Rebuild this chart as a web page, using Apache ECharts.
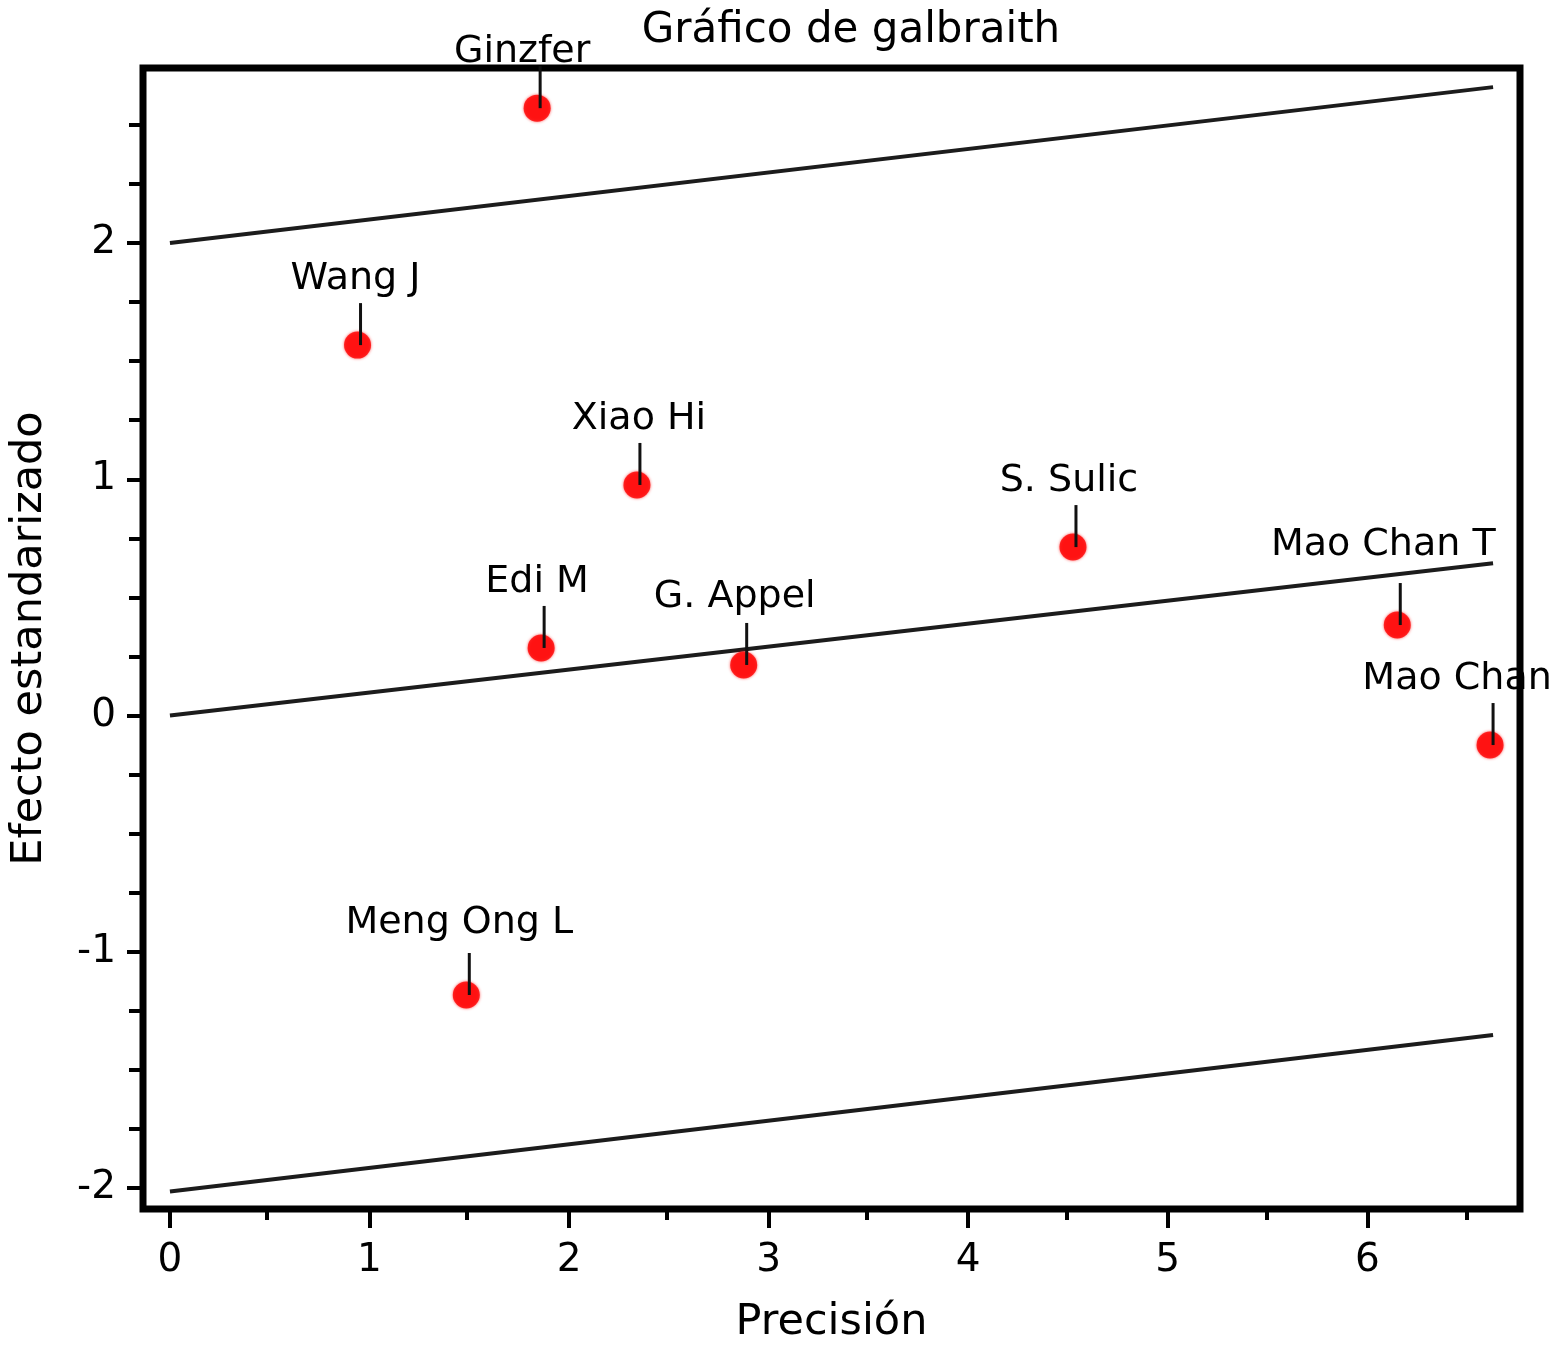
<!DOCTYPE html>
<html>
<head>
<meta charset="utf-8">
<script src="https://cdn.jsdelivr.net/npm/echarts@6/dist/echarts.min.js"></script>
<style>
html,body{margin:0;padding:0;background:#fff;}
#chart{width:1555px;height:1358px;}
</style>
</head>
<body>
<div id="chart"></div>
<script>
// ---- data ----
const studies = ['Ginzfer', 'Wang J', 'Xiao Hi', 'Edi M', 'G. Appel', 'S. Sulic', 'Mao Chan T', 'Mao Chan', 'Meng Ong L'];
const precision = [1.84, 0.94, 2.34, 1.86, 2.875, 4.525, 6.15, 6.615, 1.485];
const stdEffect = [2.571, 1.568, 0.976, 0.286, 0.214, 0.713, 0.383, -0.125, -1.183];

const lineX = [0, 6.63];
const upperBound = [2.0, 2.66];
const regLine = [0, 0.645];
const lowerBound = [-2.015, -1.352];

const xTicks = [0, 1, 2, 3, 4, 5, 6];
const xMinorTicks = [0.5, 1.5, 2.5, 3.5, 4.5, 5.5, 6.5];
const yTicks = [-2, -1, 0, 1, 2];
const yMinorTicks = [-1.75, -1.5, -1.25, -0.75, -0.5, -0.25, 0.25, 0.5, 0.75, 1.25, 1.5, 1.75, 2.25, 2.5];

const titleText = 'Gráfico de galbraith';
const xName = 'Precisión';
const yName = 'Efecto estandarizado';

// ---- layout tweaks for labels (pixels) ----
const labelNudge = {
  'Ginzfer': [-15, -10],
  'Wang J': [-2, 0],
  'Xiao Hi': [2, 0],
  'Edi M': [-4, 0],
  'G. Appel': [-9, 2],
  'S. Sulic': [-4, 0],
  'Mao Chan T': [-14, 14],
  'Mao Chan': [-33, 0],
  'Meng Ong L': [-7, 6]
};

const FONT = 'DejaVu Sans';
const X_MIN = -0.135, X_MAX = 6.765, Y_MIN = -2.089, Y_MAX = 2.741;
const gridRect = { left: 140, top: 68, width: 1380, height: 1141 };

const chart = echarts.init(document.getElementById('chart'), null, { renderer: 'canvas' });

function mkLine(ys) {
  return lineX.map((x, i) => [x, ys[i]]);
}
const lineStyle = { color: '#1c1c1c', width: 4 };
const hiddenLine = { show: false, onZero: false };

const option = {
  animation: false,
  backgroundColor: '#ffffff',
  graphic: [{
    type: 'text',
    x: 851, y: 52,
    style: { text: titleText, font: '42px "' + FONT + '"', fill: '#000', align: 'center', verticalAlign: 'bottom' },
    z: 100
  }],
  grid: [
    Object.assign({ show: true, borderColor: '#000', borderWidth: 7, backgroundColor: 'transparent', z: 3 }, gridRect),
    Object.assign({ show: false }, gridRect)
  ],
  xAxis: [{
    gridIndex: 0, type: 'value', min: X_MIN, max: X_MAX, position: 'bottom',
    axisLine: hiddenLine,
    splitLine: { show: false },
    axisTick: { show: true, customValues: xTicks, length: 19, lineStyle: { color: '#000', width: 4 } },
    axisLabel: { customValues: xTicks, margin: 32, color: '#000', fontSize: 39, fontFamily: FONT },
    name: xName, nameLocation: 'middle', nameGap: 92,
    nameTextStyle: { fontSize: 43, fontFamily: FONT, color: '#000' }
  }, {
    gridIndex: 1, type: 'value', min: X_MIN, max: X_MAX, position: 'bottom',
    axisLine: hiddenLine, splitLine: { show: false },
    axisTick: { show: true, customValues: xMinorTicks, length: 11, lineStyle: { color: '#000', width: 4 } },
    axisLabel: { show: false }
  }],
  yAxis: [{
    gridIndex: 0, type: 'value', min: Y_MIN, max: Y_MAX, position: 'left',
    axisLine: hiddenLine,
    splitLine: { show: false },
    axisTick: { show: true, customValues: yTicks, length: 16, lineStyle: { color: '#000', width: 4 } },
    axisLabel: { customValues: yTicks, margin: 27, color: '#000', fontSize: 39, fontFamily: FONT },
    name: yName, nameLocation: 'middle', nameGap: 92, nameRotate: 90,
    nameTextStyle: { fontSize: 43, fontFamily: FONT, color: '#000' }
  }, {
    gridIndex: 1, type: 'value', min: Y_MIN, max: Y_MAX, position: 'left',
    axisLine: hiddenLine, splitLine: { show: false },
    axisTick: { show: true, customValues: yMinorTicks, length: 11, lineStyle: { color: '#000', width: 4 } },
    axisLabel: { show: false }
  }],
  series: [
    { type: 'line', xAxisIndex: 0, yAxisIndex: 0, data: mkLine(upperBound), symbol: 'none', lineStyle: lineStyle, z: 2 },
    { type: 'line', xAxisIndex: 0, yAxisIndex: 0, data: mkLine(regLine), symbol: 'none', lineStyle: lineStyle, z: 2 },
    { type: 'line', xAxisIndex: 0, yAxisIndex: 0, data: mkLine(lowerBound), symbol: 'none', lineStyle: lineStyle, z: 2 },
    {
      type: 'scatter', xAxisIndex: 0, yAxisIndex: 0,
      data: precision.map((x, i) => [x, stdEffect[i]]),
      symbol: 'circle', symbolSize: 27,
      itemStyle: { color: '#ff0000', shadowBlur: 3, shadowColor: 'rgba(255,0,0,0.8)' },
      z: 4
    },
    {
      type: 'custom', xAxisIndex: 0, yAxisIndex: 0,
      data: precision.map((x, i) => [x, stdEffect[i]]),
      clip: false,
      z: 5,
      renderItem: function (params, api) {
        const p = api.coord([api.value(0), api.value(1)]);
        const name = studies[params.dataIndex];
        const nudge = labelNudge[name] || [0, 0];
        const lx = p[0] + 3;
        return {
          type: 'group',
          children: [{
            type: 'line',
            shape: { x1: lx, y1: p[1], x2: lx, y2: p[1] - 42 },
            style: { stroke: '#111', lineWidth: 3 }
          }, {
            type: 'text',
            x: p[0] + nudge[0], y: p[1] - 47 - nudge[1],
            style: { text: name, font: '38px "' + FONT + '"', fill: '#000', align: 'center', verticalAlign: 'bottom' }
          }]
        };
      }
    }
  ]
};
chart.setOption(option);
</script>
</body>
</html>
